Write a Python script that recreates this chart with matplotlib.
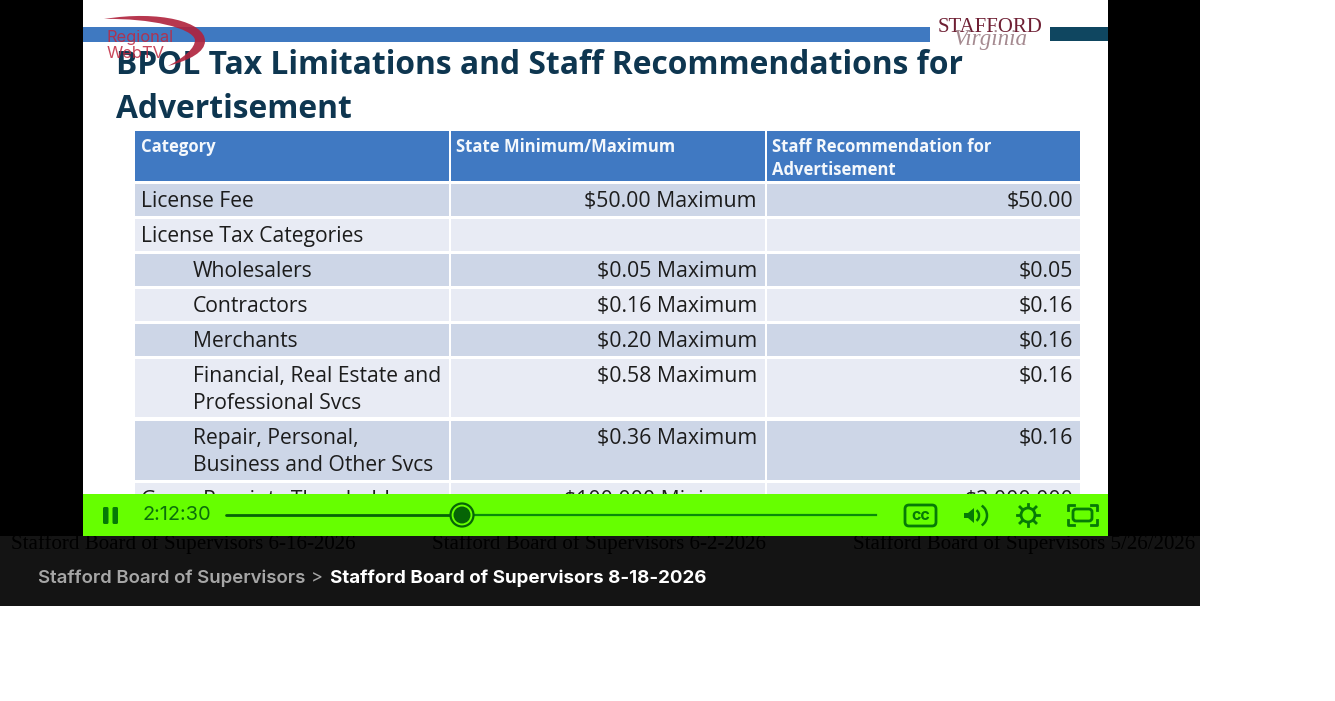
import matplotlib
matplotlib.use("Agg")
import matplotlib.pyplot as plt
from matplotlib.patches import Rectangle, FancyBboxPatch, Circle, Polygon, Arc, PathPatch
from matplotlib.path import Path

W, H = 1335, 701

categories = ["License Fee", "License Tax Categories", "Wholesalers", "Contractors", "Merchants",
              "Financial, Real Estate and\nProfessional Svcs", "Repair, Personal,\nBusiness and Other Svcs",
              "Gross Receipts Threshold"]
state_limits = ["$50.00 Maximum", "", "$0.05 Maximum", "$0.16 Maximum", "$0.20 Maximum",
                "$0.58 Maximum", "$0.36 Maximum", "$100,000 Minimum"]
staff_recs = ["$50.00", "", "$0.05", "$0.16", "$0.16", "$0.16", "$0.16", "$3,000,000"]
headers = ["Category", "State Minimum/Maximum", "Staff Recommendation for\nAdvertisement"]
row_tops = [184, 219, 254, 289, 324, 359, 421, 483]
row_bottoms = [216, 251, 286, 321, 356, 417, 480, 520]
indents = [0, 0, 1, 1, 1, 1, 1, 0]
col_left = [135, 451, 767]
col_right = [449, 765, 1080]
other_videos = ["Stafford Board of Supervisors 6-16-2026", "Stafford Board of Supervisors 6-2-2026",
                "Stafford Board of Supervisors 5/26/2026"]
other_x = [11, 432, 853]

fig = plt.figure(figsize=(W / 100, H / 100), dpi=100, facecolor="white")
ax = fig.add_axes([0, 0, 1, 1])
ax.set_xlim(0, W)
ax.set_ylim(H, 0)
ax.axis("off")


def box(x0, y0, x1, y1, color, z=1, **kw):
    ax.add_patch(Rectangle((x0, y0), x1 - x0, y1 - y0, facecolor=color, edgecolor="none", zorder=z, **kw))


def px(n):
    return n * 0.72


# page and video frame
box(0, 0, 1200, 536, "black", 0)
box(83, 0, 1108, 536, "white", 1)
box(0, 536, 1200, 606, "#141414", 1)

# slide header bars
box(83, 27, 930, 42, "#3f79c1", 2)
box(1050, 27, 1108, 41, "#0f4660", 2)

title_font = "Open Sans"
ax.text(116, 65, "BPOL Tax Limitations and Staff Recommendations for", fontsize=px(31.8), family=title_font,
        weight="bold", color="#0e3650", va="center", zorder=3)
ax.text(116, 109, "Advertisement", fontsize=px(31.8), family=title_font, weight="bold",
        color="#0e3650", va="center", zorder=3)

# table header
for i in range(3):
    box(col_left[i], 131, col_right[i], 180.5, "#4079c2", 2)
    ax.text(col_left[i] + 5.5, 137.5, headers[i], fontsize=px(16.6), family=title_font, weight="bold",
            color="#f4f8fc", va="top", linespacing=1.36, zorder=3)

# table rows
for r in range(len(categories)):
    shade = "#cdd6e7" if r % 2 == 0 else "#e8ebf4"
    for i in range(3):
        box(col_left[i], row_tops[r], col_right[i], row_bottoms[r], shade, 2)
    tx = 193 if indents[r] else 141
    ax.text(tx, row_tops[r] + 7, categories[r], fontsize=px(21.1), family=title_font, color="#1c1c1c",
            va="top", linespacing=1.39, zorder=3)
    ax.text(757, row_tops[r] + 7, state_limits[r], fontsize=px(21.3), family=title_font, color="#1c1c1c",
            va="top", ha="right", zorder=3)
    ax.text(1073, row_tops[r] + 7, staff_recs[r], fontsize=px(21.3), family=title_font, color="#1c1c1c",
            va="top", ha="right", zorder=3)

# watermark logos
swoosh = Path([(104, 19), (160, 10), (205, 22), (205, 41), (205, 52), (190, 60), (168, 66),
               (185, 57), (195, 48), (195, 40), (193, 28), (150, 18), (104, 19)],
              [Path.MOVETO] + [Path.CURVE4] * 12)
ax.add_patch(PathPatch(swoosh, facecolor="#b0223c", edgecolor="none", alpha=0.9, zorder=4))
ax.text(107, 37.5, "Regional", fontsize=px(16.5), family="Inter", color="#c0283f", alpha=0.85, va="center", zorder=5)
ax.text(107, 54, "WebTV", fontsize=px(16.5), family="Inter", color="#c0283f", alpha=0.85, va="center", zorder=5)
ax.text(938, 27, "STAFFORD", fontsize=px(20.8), family="Liberation Serif", color="#6e1f33", va="center", zorder=4)
ax.text(954, 39, "Virginia", fontsize=px(23), family="Liberation Serif", style="italic", color="#a58a90",
        va="center", zorder=4)

# player bar
green = "#66ff00"
dark = "#067a06"
box(83, 494, 1108, 536, green, 6)
bar_kw = dict(facecolor=dark, edgecolor="none", zorder=7)
for x in (103, 112.5):
    ax.add_patch(FancyBboxPatch((x, 507), 5.5, 17, boxstyle="round,pad=0,rounding_size=1.5", **bar_kw))
ax.text(143, 515, "2:12:30", fontsize=px(20), family="Inter", color="#0a6f0a", va="center", zorder=7)
ax.plot([226, 462], [515, 515], color="#066406", lw=2, zorder=7, solid_capstyle="round")
ax.plot([462, 876], [515, 515], color="#0a8a0a", lw=1.6, zorder=7)
ax.add_patch(Circle((462, 515), 11.5, facecolor=green, edgecolor="#066406", lw=1.6, zorder=8))
ax.add_patch(Circle((462, 515), 8.5, facecolor="#066406", edgecolor="none", zorder=9))

# cc button
ax.add_patch(FancyBboxPatch((905, 505), 31, 21, boxstyle="round,pad=0,rounding_size=4", facecolor="none",
                            edgecolor=dark, lw=2, zorder=7))
ax.text(920.5, 515.5, "cc", fontsize=px(16), family="Inter", weight="bold", color=dark, ha="center",
        va="center", zorder=7)
# volume
ax.add_patch(Polygon([(964, 513), (968, 513), (974, 508), (974, 523), (968, 518), (964, 518)], closed=True,
                     **bar_kw))
ax.add_patch(Arc((974, 515.5), 10, 12, theta1=-65, theta2=65, color=dark, lw=1.8, zorder=7))
ax.add_patch(Arc((976, 515.5), 22, 23, theta1=-60, theta2=60, color=dark, lw=1.8, zorder=7))
# settings, a gear drawn as a sun
ax.add_patch(Circle((1028, 515), 7, facecolor="none", edgecolor=dark, lw=2, zorder=7))
ax.plot([1028, 1028], [504, 526], color=dark, lw=2, zorder=6.5)
ax.plot([1017, 1039], [515, 515], color=dark, lw=2, zorder=6.5)
ax.plot([1020, 1036], [507, 523], color=dark, lw=2, zorder=6.5)
ax.plot([1020, 1036], [523, 507], color=dark, lw=2, zorder=6.5)
ax.add_patch(Circle((1028, 515), 6.5, facecolor=green, edgecolor="none", zorder=6.8))
# fullscreen
ax.add_patch(FancyBboxPatch((1073, 509), 19, 12, boxstyle="round,pad=0,rounding_size=3", facecolor="none",
                            edgecolor=dark, lw=2, zorder=7))
for xs, ys in [((1068, 1068, 1074), (510, 505, 505)), ((1091, 1097, 1097), (505, 505, 510)),
               ((1068, 1068, 1074), (520, 525, 525)), ((1091, 1097, 1097), (525, 525, 520))]:
    ax.plot(xs, ys, color=dark, lw=2, zorder=7)

# strip below the player: black serif titles on near black, clipped at 1200
strip_clip = Rectangle((0, 536), 1200, 70, transform=ax.transData)
for label, x in zip(other_videos, other_x):
    t = ax.text(x, 544, label, fontsize=px(21), family="Liberation Serif", color="#000000", va="center", zorder=2)
    t.set_clip_path(strip_clip)
    t.set_clip_on(True)

ax.text(38.5, 578, "Stafford Board of Supervisors", fontsize=px(18.6), family="Inter", weight="semibold",
        color="#a6a6a6", va="center", zorder=2)
ax.text(311, 578, ">", fontsize=px(18), family="Inter", color="#a6a6a6", va="center", zorder=2)
ax.text(330, 578, "Stafford Board of Supervisors 8-18-2026", fontsize=px(18.75), family="Inter", weight="bold",
        color="#ffffff", va="center", zorder=2)

fig.savefig("out.png", dpi=100, facecolor="white")
